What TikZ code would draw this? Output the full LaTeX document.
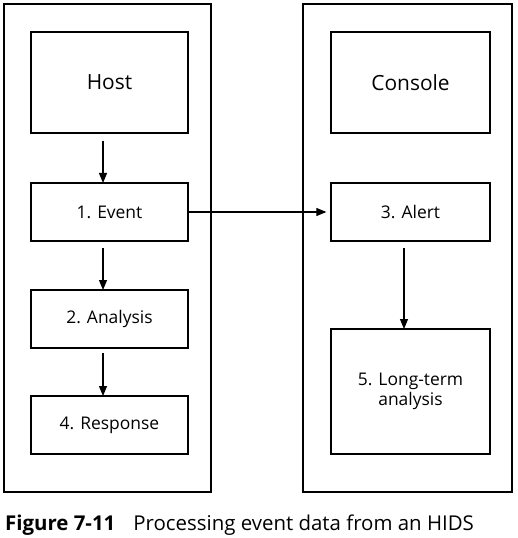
\documentclass[tikz,border=0pt]{standalone}
\usepackage{fontspec}
\setmainfont{Open Sans}
\newfontfamily\capfont{Open Sans}
\usetikzlibrary{arrows.meta}
\begin{document}
\begin{tikzpicture}[x=1bp,y=-1bp,
  outerbox/.style={draw, line width=1.4bp},
  stepbox/.style={draw, line width=1.3bp, inner sep=0pt, font=\fontsize{17.5}{20}\selectfont, align=center},
  conn/.style={line width=1.1bp, -{Triangle[width=8bp,length=10bp]}}]
\useasboundingbox (0,0) rectangle (518,538);
\draw[outerbox] (4,4) rectangle (211,492);
\draw[outerbox] (303,4) rectangle (512,492);
\node[stepbox, minimum width=157bp, minimum height=101bp, font=\fontsize{21}{24}\selectfont] (host) at (109.5,82.5) {Host};
\node[stepbox, minimum width=157bp, minimum height=58bp] (event) at (109.5,212) {1. Event};
\node[stepbox, minimum width=157bp, minimum height=58bp] (analysis) at (109.5,319) {2. Analysis};
\node[stepbox, minimum width=157bp, minimum height=58bp] (response) at (109.5,425) {4. Response};
\node[stepbox, minimum width=159bp, minimum height=101bp, font=\fontsize{21}{24}\selectfont] (console) at (410.5,82.5) {Console};
\node[stepbox, minimum width=159bp, minimum height=58bp] (alert) at (410.5,212) {3. Alert};
\node[stepbox, minimum width=159bp, minimum height=125bp] (longterm) at (410.5,391.5) {5. Long-term\\analysis};
\draw[conn] ([yshift=-7bp]host.south -| 103,0) -- (103,183);
\draw[conn] (103,248) -- (103,290);
\draw[conn] (103,353) -- (103,396);
\draw[conn] (event.east) -- ([xshift=-4bp]alert.west);
\draw[conn] (404,248) -- (404,329);
\node[anchor=base west, inner sep=0pt, font=\capfont\fontsize{20.5}{24}\selectfont] (cap) at (5,530) {\textbf{Figure 7-11}\hspace{18bp}Processing event data from an HIDS};
\end{tikzpicture}
\end{document}
